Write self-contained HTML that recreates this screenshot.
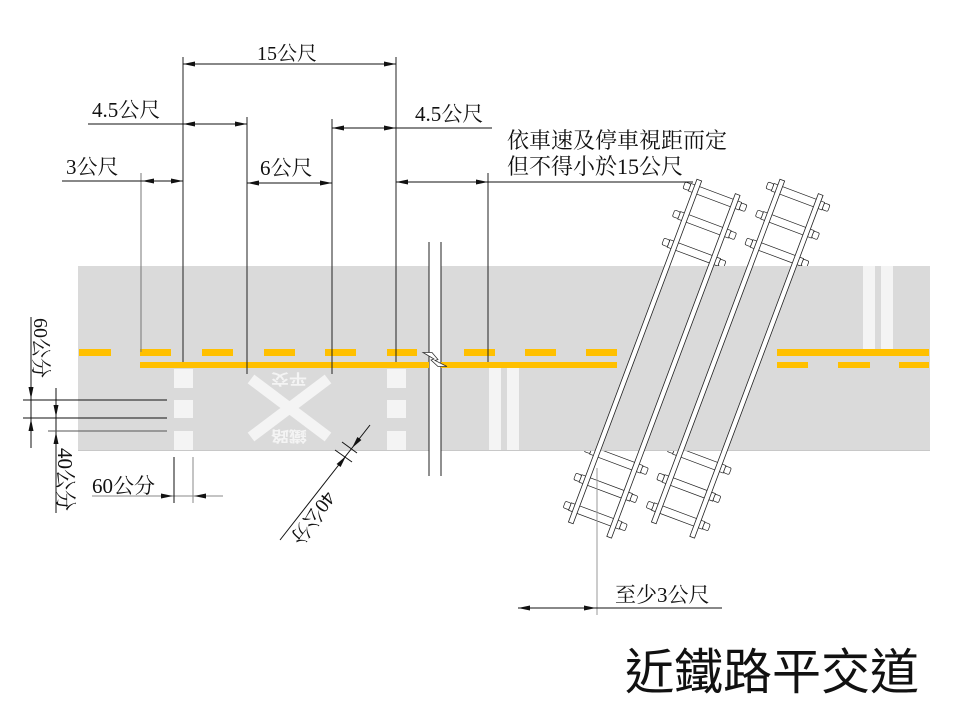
<!DOCTYPE html>
<html>
<head>
<meta charset="utf-8">
<style>
html,body{margin:0;padding:0;background:#fff;}
svg{display:block;}
.dim{font-family:"Liberation Serif","Noto Serif CJK SC",serif;fill:#111;}
</style>
</head>
<body>
<svg width="960" height="720" viewBox="0 0 960 720" xmlns="http://www.w3.org/2000/svg">
<rect x="0" y="0" width="960" height="720" fill="#fff"/>

<!-- ties (under road) -->
<g stroke="#222" stroke-width="0.7" fill="#fff">
  <g transform="translate(689,266) rotate(20.56)">
    <g id="ties">
      <rect x="-27" y="-78" width="54" height="8"/><rect x="-33" y="-77.5" width="6" height="7" rx="1.5"/><rect x="27" y="-77.5" width="6" height="7" rx="1.5"/>
      <rect x="-27" y="-48" width="54" height="8"/><rect x="-33" y="-47.5" width="6" height="7" rx="1.5"/><rect x="27" y="-47.5" width="6" height="7" rx="1.5"/>
      <rect x="-27" y="-18" width="54" height="8"/><rect x="-33" y="-17.5" width="6" height="7" rx="1.5"/><rect x="27" y="-17.5" width="6" height="7" rx="1.5"/>
      <rect x="-27" y="203" width="54" height="8"/><rect x="-33" y="203.5" width="6" height="7" rx="1.5"/><rect x="27" y="203.5" width="6" height="7" rx="1.5"/>
      <rect x="-27" y="233" width="54" height="8"/><rect x="-33" y="233.5" width="6" height="7" rx="1.5"/><rect x="27" y="233.5" width="6" height="7" rx="1.5"/>
      <rect x="-27" y="263" width="54" height="8"/><rect x="-33" y="263.5" width="6" height="7" rx="1.5"/><rect x="27" y="263.5" width="6" height="7" rx="1.5"/>
    </g>
  </g>
  <g transform="translate(772,266) rotate(20.56)">
      <rect x="-27" y="-78" width="54" height="8"/><rect x="-33" y="-77.5" width="6" height="7" rx="1.5"/><rect x="27" y="-77.5" width="6" height="7" rx="1.5"/>
      <rect x="-27" y="-48" width="54" height="8"/><rect x="-33" y="-47.5" width="6" height="7" rx="1.5"/><rect x="27" y="-47.5" width="6" height="7" rx="1.5"/>
      <rect x="-27" y="-18" width="54" height="8"/><rect x="-33" y="-17.5" width="6" height="7" rx="1.5"/><rect x="27" y="-17.5" width="6" height="7" rx="1.5"/>
      <rect x="-27" y="203" width="54" height="8"/><rect x="-33" y="203.5" width="6" height="7" rx="1.5"/><rect x="27" y="203.5" width="6" height="7" rx="1.5"/>
      <rect x="-27" y="233" width="54" height="8"/><rect x="-33" y="233.5" width="6" height="7" rx="1.5"/><rect x="27" y="233.5" width="6" height="7" rx="1.5"/>
      <rect x="-27" y="263" width="54" height="8"/><rect x="-33" y="263.5" width="6" height="7" rx="1.5"/><rect x="27" y="263.5" width="6" height="7" rx="1.5"/>
  </g>
</g>

<!-- road -->
<rect x="78" y="266" width="852" height="184" fill="#dadada"/>
<line x1="78" y1="450.5" x2="930" y2="450.5" stroke="#c8c8c8" stroke-width="1"/>

<!-- break gap -->
<rect x="429" y="242" width="12" height="234" fill="#fff"/>
<line x1="429" y1="242" x2="429" y2="476" stroke="#222" stroke-width="1"/>
<line x1="441" y1="242" x2="441" y2="476" stroke="#222" stroke-width="1"/>

<!-- yellow dashed (left) -->
<g fill="#ffc000">
  <rect x="79" y="349" width="32" height="7"/>
  <rect x="140" y="349" width="31" height="7"/>
  <rect x="202" y="349" width="31" height="7"/>
  <rect x="264" y="349" width="31" height="7"/>
  <rect x="325" y="349" width="31" height="7"/>
  <rect x="387" y="349" width="30" height="7"/>
  <rect x="464" y="349" width="31" height="7"/>
  <rect x="525" y="349" width="31" height="7"/>
  <rect x="586" y="349" width="31" height="7"/>
  <!-- solid left -->
  <rect x="140" y="362" width="289" height="6"/>
  <rect x="441" y="362" width="176" height="6"/>
  <!-- right side -->
  <rect x="777" y="349" width="152" height="7"/>
  <rect x="777" y="362" width="31" height="6"/>
  <rect x="838" y="362" width="32" height="6"/>
  <rect x="899" y="362" width="30" height="6"/>
</g>

<!-- zigzag break symbol -->
<polygon points="423,352.5 432,352.5 438,359.5 435,360.5 447,366.5 438,366.5 431,360 434,359" fill="#fff" stroke="#333" stroke-width="0.8"/>

<!-- white markings -->
<g fill="#f4f4f4">
  <rect x="174" y="369" width="19" height="19"/>
  <rect x="174" y="400" width="19" height="18"/>
  <rect x="174" y="431" width="19" height="19"/>
  <rect x="387" y="369" width="19" height="19"/>
  <rect x="387" y="400" width="19" height="18"/>
  <rect x="387" y="431" width="19" height="19"/>
  <rect x="489" y="368" width="12" height="82"/>
  <rect x="507" y="368" width="12" height="82"/>
  <rect x="863" y="266" width="12" height="83"/>
  <rect x="881" y="266" width="12" height="83"/>
</g>
<g stroke="#f4f4f4" stroke-width="11">
  <line x1="251" y1="379" x2="328" y2="437"/>
  <line x1="328" y1="379" x2="251" y2="437"/>
</g>
<g font-family="'Noto Sans CJK TC','WenQuanYi Zen Hei',sans-serif" font-size="15" font-weight="bold" fill="#f4f4f4">
  <text transform="translate(307,374) rotate(180)" textLength="36" lengthAdjust="spacingAndGlyphs">平交</text>
  <text transform="translate(307,431) rotate(180)" textLength="36" lengthAdjust="spacingAndGlyphs">鐵路</text>
</g>

<!-- rails (over road) -->
<g stroke="#222" stroke-width="0.8" fill="#fff">
  <g transform="translate(689,266) rotate(20.56)">
    <rect x="-23" y="-84" width="5" height="366"/>
    <rect x="18" y="-84" width="5" height="366"/>
  </g>
  <g transform="translate(772,266) rotate(20.56)">
    <rect x="-23" y="-84" width="5" height="366"/>
    <rect x="18" y="-84" width="5" height="366"/>
  </g>
</g>

<!-- extension lines -->
<g stroke="#222" stroke-width="1">
  <line x1="183" y1="57" x2="183" y2="362"/>
  <line x1="396" y1="57" x2="396" y2="362"/>
  <line x1="247" y1="117" x2="247" y2="374"/>
  <line x1="332" y1="119" x2="332" y2="374"/>
  <line x1="488" y1="173" x2="488" y2="362"/>
</g>
<line x1="141" y1="173" x2="141" y2="352" stroke="#777" stroke-width="1"/>
<line x1="597" y1="468" x2="597" y2="615" stroke="#999" stroke-width="1"/>

<!-- dimension lines -->
<g stroke="#111" stroke-width="1">
  <line x1="183" y1="64" x2="396" y2="64"/>
  <line x1="88" y1="124" x2="247" y2="124"/>
  <line x1="332" y1="128" x2="492" y2="128"/>
  <line x1="62" y1="181" x2="183" y2="181"/>
  <line x1="247" y1="183" x2="332" y2="183"/>
  <line x1="396" y1="182" x2="693" y2="182"/>
  <line x1="518" y1="608" x2="722" y2="608"/>
  <line x1="92" y1="496" x2="223" y2="496" stroke="#888"/>
  <line x1="174" y1="457" x2="174" y2="503"/>
  <line x1="193" y1="457" x2="193" y2="503" stroke="#888"/>
  <!-- left vertical dims -->
  <line x1="31" y1="317" x2="31" y2="448"/>
  <line x1="56" y1="388" x2="56" y2="513"/>
  <line x1="23" y1="400" x2="167" y2="400"/>
  <line x1="23" y1="418" x2="167" y2="418"/>
  <line x1="48" y1="431" x2="167" y2="431" stroke="#555"/>
  <!-- diagonal -->
  <line x1="370" y1="425" x2="280" y2="540"/>
  <line x1="342" y1="442" x2="357" y2="453"/>
  <line x1="335" y1="450" x2="352" y2="462"/>
</g>

<!-- arrowheads -->
<g fill="#111">
  <polygon points="183,64 195,61.5 195,66.5"/>
  <polygon points="396,64 384,61.5 384,66.5"/>
  <polygon points="183,124 195,121.5 195,126.5"/>
  <polygon points="247,124 235,121.5 235,126.5"/>
  <polygon points="332,128 344,125.5 344,130.5"/>
  <polygon points="396,128 384,125.5 384,130.5"/>
  <polygon points="142,181 154,178.5 154,183.5"/>
  <polygon points="183,181 171,178.5 171,183.5"/>
  <polygon points="247,183 259,180.5 259,185.5"/>
  <polygon points="332,183 320,180.5 320,185.5"/>
  <polygon points="396,182 408,179.5 408,184.5"/>
  <polygon points="488,182 476,179.5 476,184.5"/>
  <polygon points="518,608 530,605.5 530,610.5"/>
  <polygon points="596,608 584,605.5 584,610.5"/>
  <polygon points="173,496 161,493.5 161,498.5"/>
  <polygon points="194,496 206,493.5 206,498.5"/>
  <polygon points="31,399 28.5,387 33.5,387"/>
  <polygon points="31,419 28.5,431 33.5,431"/>
  <polygon points="56,417 53.5,405 58.5,405"/>
  <polygon points="56,432 53.5,444 58.5,444"/>
  <polygon points="352,448 361.4,440 357.4,437"/>
  <polygon points="346,456 340.6,467 336.6,464"/>
</g>

<!-- dimension text -->
<g class="dim">
  <text x="257" y="60" font-size="20">15公尺</text>
  <text x="92" y="117" font-size="21">4.5公尺</text>
  <text x="415" y="121" font-size="21">4.5公尺</text>
  <text x="66" y="174" font-size="21">3公尺</text>
  <text x="260" y="175" font-size="21">6公尺</text>
  <text x="507" y="148" font-size="22">依車速及停車視距而定</text>
  <text x="507" y="174" font-size="22">但不得小於15公尺</text>
  <text x="615" y="602" font-size="21">至少3公尺</text>
  <text x="92" y="493" font-size="21">60公分</text>
  <text transform="translate(34,318) rotate(90)" font-size="20">60公分</text>
  <text transform="translate(58,448) rotate(90)" font-size="21">40公分</text>
  <text transform="translate(326,490) rotate(127.7)" font-size="20">40公分</text>
</g>

<!-- title -->
<text x="625" y="689" font-family="'Noto Sans CJK TC','Noto Sans CJK SC','WenQuanYi Zen Hei',sans-serif" font-size="49" fill="#111">近鐵路平交道</text>
</svg>
</body>
</html>
